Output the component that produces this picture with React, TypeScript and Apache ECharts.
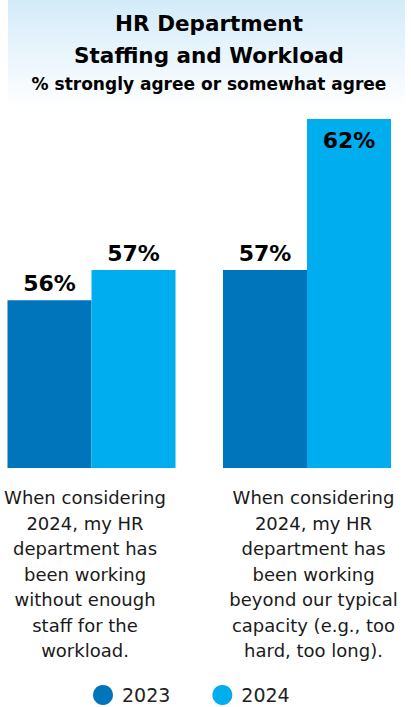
import React, { useEffect, useRef } from "react";
import * as echarts from "echarts";

const categories = [
  "When considering\n2024, my HR\ndepartment has\nbeen working\nwithout enough\nstaff for the\nworkload.",
  "When considering\n2024, my HR\ndepartment has\nbeen working\nbeyond our typical\ncapacity (e.g., too\nhard, too long).",
];
const seriesNames = ["2023", "2024"];
const values2023 = [56, 57];
const values2024 = [57, 62];
const titleLines = ["HR Department", "Staffing and Workload"];
const subtitle = "% strongly agree or somewhat agree";

const DARK = "#0075BC";
const LIGHT = "#00AEEF";
const FONT = "'DejaVu Sans', sans-serif";

export default function App() {
  const ref = useRef<HTMLDivElement>(null);
  useEffect(() => {
    document.body.style.margin = "0";
    const chart = echarts.init(ref.current!, null, { renderer: "svg" });
    const labelStyle = {
      show: true,
      position: "top" as const,
      distance: 6,
      formatter: "{c}%",
      fontFamily: FONT,
      fontSize: 22,
      fontWeight: "bold" as const,
      color: "#000",
    };
    const max2024 = Math.max(...values2024);
    chart.setOption({
      animation: false,
      graphic: [
        {
          type: "rect",
          shape: { x: 8, y: 0, width: 397, height: 108 },
          style: {
            fill: new echarts.graphic.LinearGradient(0, 0, 0, 1, [
              { offset: 0, color: "#d3ebf9" },
              { offset: 1, color: "#ffffff" },
            ]),
          },
          z: -1,
        },
      ],
      title: [
        {
          text: titleLines.join("\n"),
          left: 209,
          top: 7,
          padding: 0,
          textAlign: "center",
          textStyle: {
            fontFamily: FONT,
            fontSize: 21.5,
            fontWeight: "bold",
            color: "#000",
            lineHeight: 32,
          },
        },
        {
          text: subtitle,
          left: 209,
          top: 73,
          padding: 0,
          textAlign: "center",
          textStyle: {
            fontFamily: FONT,
            fontSize: 17,
            fontWeight: "bold",
            color: "#000",
            lineHeight: 22,
          },
        },
      ],
      legend: {
        data: seriesNames,
        left: 93,
        top: 685,
        padding: 0,
        icon: "circle",
        itemWidth: 20,
        itemHeight: 20,
        itemGap: 42,
        textStyle: { fontFamily: FONT, fontSize: 19, color: "#222", padding: [0, 0, 0, 4] },
      },
      grid: { left: 91.5, right: 104, top: 119, bottom: 239, containLabel: false },
      xAxis: {
        type: "category",
        boundaryGap: false,
        data: categories.map((c, i) => ({
          value: c,
          textStyle: { padding: i === 0 ? [0, 13, 0, 0] : [0, 0, 0, 13] },
        })),
        axisLine: { show: false },
        axisTick: { show: false },
        axisLabel: {
          interval: 0,
          margin: 17,
          fontFamily: FONT,
          fontSize: 18,
          lineHeight: 25.5,
          color: "#1a1a1a",
          align: "center",
        },
      },
      yAxis: {
        type: "value",
        min: 50.45,
        max: 62,
        show: false,
        splitLine: { show: false },
      },
      series: [
        {
          name: seriesNames[0],
          type: "bar",
          data: values2023,
          barWidth: 84,
          barGap: "0%",
          itemStyle: { color: DARK },
          label: labelStyle,
        },
        {
          name: seriesNames[1],
          type: "bar",
          data: values2024.map((v) =>
            v === max2024
              ? { value: v, label: { position: "insideTop", distance: 10 } }
              : v
          ),
          barWidth: 84,
          barGap: "0%",
          itemStyle: { color: LIGHT },
          label: labelStyle,
        },
      ],
    });
    return () => chart.dispose();
  }, []);
  return (
    <div
      ref={ref}
      style={{ position: "absolute", left: 0, top: 0, width: 411, height: 707, background: "#fff" }}
    />
  );
}
